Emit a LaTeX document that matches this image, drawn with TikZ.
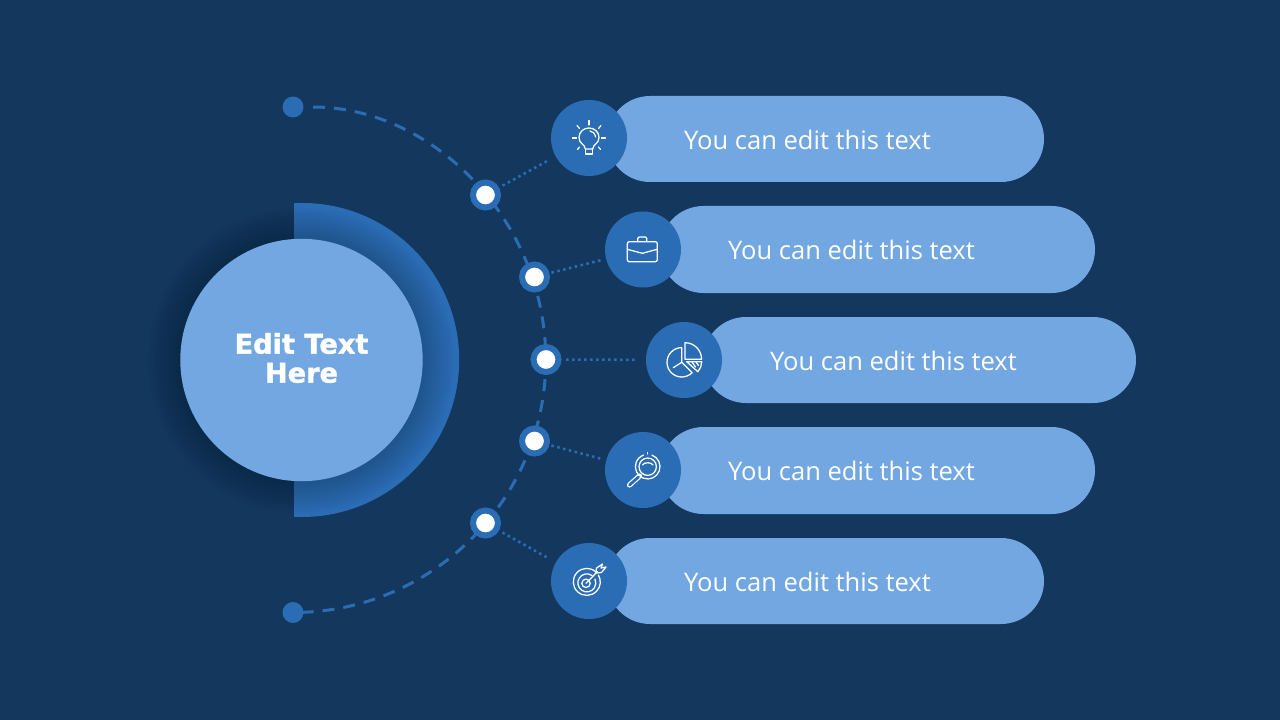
\documentclass[tikz,border=0pt]{standalone}
\usepackage{fontspec}
\usepackage{xcolor}
\setmainfont{Open Sans}
\newfontfamily\headfont{DejaVu Sans}[BoldFeatures={FakeBold=1.5}]
\usetikzlibrary{shapes.misc}
\definecolor{bgblue}{HTML}{14375E}
\definecolor{ringblue}{HTML}{2A6DB5}
\definecolor{lightblue}{HTML}{72A7E1}
\tikzset{
	pillbox/.style={rounded rectangle, fill=lightblue, inner sep=0pt, outer sep=0pt},
	pilltext/.style={text=white, inner sep=0pt, font=\fontsize{19.15}{24}\selectfont},
	iconbox/.style={circle, fill=ringblue, minimum size=57pt, inner sep=0pt, outer sep=0pt},
	dotbox/.style={circle, draw=ringblue, line width=4.5pt, fill=white, minimum size=18.75pt, inner sep=0pt},
	endbox/.style={circle, fill=ringblue, minimum size=15.75pt, inner sep=0pt},
	dotline/.style={draw=ringblue, line width=1.9pt, dash pattern=on 1.9pt off 2.6pt},
	arcline/.style={draw=ringblue, line width=2.25pt, dash pattern=on 9pt off 6.75pt},
	iconline/.style={draw=white, line width=0.95pt, line cap=round, line join=round}
}
\begin{document}
\begin{tikzpicture}[x=0.75pt, y=-0.75pt]
	\fill[bgblue] (0,0) rectangle (1280,720);
	\fill[ringblue] (294,203.2) arc[start angle=-93, end angle=93, radius=157] -- cycle;
	\foreach \rad in {123,126,...,153}
		\fill[black, opacity=0.019] (301,360.5) circle (\rad);
	\node[circle, fill=lightblue, minimum size=181.8pt, inner sep=0pt] (main) at (301.5,360) {};
	\node[text=white, align=center, inner sep=0pt, font=\headfont\bfseries\fontsize{20.4}{21.75}\selectfont] (maintext) at (301.5,358) {Edit Text\\Here};
	\node[endbox] (endtop) at (293,107) {};
	\node[endbox] (endbottom) at (293,612.5) {};
	\draw[arcline, shorten <=15pt] (endtop.center) arc[start angle=-90, end angle=90, radius=252.75];
	\node[dotbox] (dot1) at (485.5,195) {};
	\node[dotbox] (dot2) at (534.5,277) {};
	\node[dotbox] (dot3) at (546,359.5) {};
	\node[dotbox] (dot4) at (534.5,441) {};
	\node[dotbox] (dot5) at (485.5,523) {};
	\node[pillbox, minimum width=327.75pt, minimum height=64.5pt] (pill1) at (825.5,139) {};
	\node[pillbox, minimum width=326.25pt, minimum height=65.25pt] (pill2) at (877.5,249.5) {};
	\node[pillbox, minimum width=324.75pt, minimum height=64.5pt] (pill3) at (919.5,360) {};
	\node[pillbox, minimum width=326.25pt, minimum height=65.25pt] (pill4) at (877.5,470.5) {};
	\node[pillbox, minimum width=327.75pt, minimum height=64.5pt] (pill5) at (825.5,581) {};
	\node[pilltext] (text1) at (807.5,139.5) {You can edit this text};
	\node[pilltext] (text2) at (851.5,249.5) {You can edit this text};
	\node[pilltext] (text3) at (893.5,360.5) {You can edit this text};
	\node[pilltext] (text4) at (851.5,470.5) {You can edit this text};
	\node[pilltext] (text5) at (807.5,581.5) {You can edit this text};
	\node[iconbox] (icon1) at (589,138) {};
	\node[iconbox] (icon2) at (643,249.5) {};
	\node[iconbox] (icon3) at (684,360) {};
	\node[iconbox] (icon4) at (643,470) {};
	\node[iconbox] (icon5) at (589,581) {};
	\draw[dotline, shorten <=3pt, shorten >=6pt] (dot1) -- (icon1);
	\draw[dotline, shorten <=1.5pt, shorten >=2.5pt] (dot2) -- (icon2);
	\draw[dotline, shorten <=3.5pt, shorten >=7pt] (dot3) -- (icon3);
	\draw[dotline, shorten <=1.5pt, shorten >=2.5pt] (dot4) -- (icon4);
	\draw[dotline, shorten <=3pt, shorten >=6pt] (dot5) -- (icon5);
	\begin{scope}[shift={(icon1.center)}]
		\draw[iconline] (0,-17.5) -- (0,-13);
		\draw[iconline] (-16.5,0) -- (-12.5,0);
		\draw[iconline] (12.5,0) -- (16.5,0);
		\draw[iconline] (-12,-12.5) -- (-9.5,-9.5);
		\draw[iconline] (12,-12.5) -- (9.5,-9.5);
		\draw[iconline] (-11.5,11.5) -- (-9.5,9);
		\draw[iconline] (11.5,11.5) -- (9.5,9);
		\draw[iconline] (-3.7,11) .. controls (-4,6) and (-10,6) .. (-10,-0.5) .. controls (-10,-6) and (-5.5,-10) .. (0,-10) .. controls (5.5,-10) and (10,-6) .. (10,-0.5) .. controls (10,6) and (4,6) .. (3.7,11) -- cycle;
		\draw[iconline] (-3.7,11) -- (-3.7,16) -- (3.7,16) -- (3.7,11);
		\draw[iconline] (1,-7) .. controls (4,-6.5) and (6,-4.5) .. (6.5,-1);
	\end{scope}
	\begin{scope}[shift={(icon2.center)}]
		\draw[iconline, rounded corners=1.5pt] (-15.7,-7.8) rectangle (14.3,12.2);
		\draw[iconline] (-15.7,-0.2) -- (-0.7,3.8) -- (14.3,-0.2);
		\draw[iconline, rounded corners=1pt] (-5.2,-7.8) -- (-5.2,-12.5) -- (3.8,-12.5) -- (3.8,-7.8);
	\end{scope}
	\begin{scope}[shift={(icon3.center)}]
		\draw[iconline] (-2.3,-12.4) arc[start angle=-90, end angle=-315, radius=14.7] -- (-2.3,2.3) -- cycle;
		\draw[iconline] (-2.3,2.3) -- (-10.7,7.7);
		\draw[iconline] (1,-0.7) -- (1,-17.3) arc[start angle=-90, end angle=0, radius=16.6] -- cycle;
		\draw[iconline] (2.7,1.7) -- (17.7,1.7) arc[start angle=0, end angle=42, radius=15] -- cycle;
		\draw[iconline] (8,2) -- (11.5,7);
		\draw[iconline] (12,2) -- (14.5,5.5);
	\end{scope}
	\begin{scope}[shift={(icon4.center)}]
		\draw[iconline] (4.7,-3.3) circle (8.7);
		\draw[iconline] (8.9,-14.9) arc[start angle=-70, end angle=250, radius=12.3];
		\draw[iconline] (4.7,-17.5) -- (4.7,-16);
		\draw[iconline] (-0.5,-5) .. controls (1,-8) and (8.5,-8) .. (10,-5);
		\draw[white, line width=3.9pt, line cap=round] (-3.5,6) -- (-13.5,15);
		\draw[ringblue, line width=2.1pt, line cap=round] (-4.5,7) -- (-13.5,15);
	\end{scope}
	\begin{scope}[shift={(icon5.center)}]
		\draw[iconline] (7,-9) arc[start angle=-47, end angle=-390, radius=13.5];
		\draw[iconline] (3,-5.5) arc[start angle=-55, end angle=-385, radius=9];
		\draw[iconline] (-3,2.3) circle (4.2);
		\draw[iconline] (-3,2.3) -- (8.5,-9.5);
		\draw[iconline] (7,-8) -- (7.5,-13) -- (13.5,-17) -- (12,-13) -- (17,-14) -- (12.5,-8.5) -- cycle;
	\end{scope}
\end{tikzpicture}
\end{document}
